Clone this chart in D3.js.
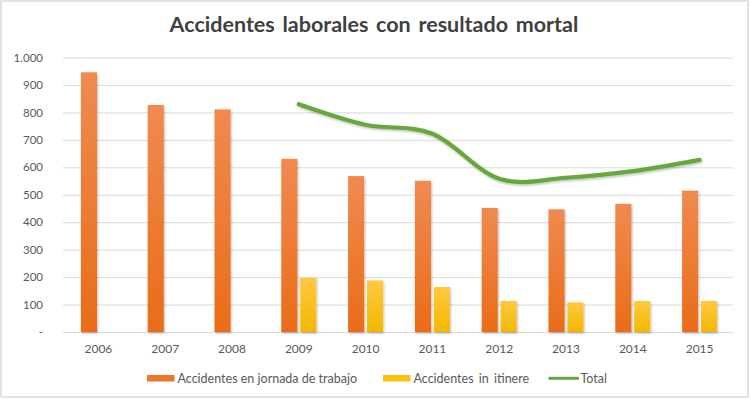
<!DOCTYPE html>
<html><head><meta charset="utf-8">
<script src="https://cdn.jsdelivr.net/npm/d3@7"></script>
<style>body{margin:0;background:#fff} svg{display:block}</style>
</head><body><svg id="c" width="750" height="400"></svg>
<script>
const title = "Accidentes laborales con resultado mortal";
const years = ["2006","2007","2008","2009","2010","2011","2012","2013","2014","2015"];
const jornada = [946, 827, 811, 631, 568, 551, 452, 447, 467, 515];
const itinere = [0, 0, 0, 197, 188, 164, 113, 108, 113, 113];
const total = [null, null, null, 830, 755, 722, 558, 562, 586, 627];
const yTicks = [0, 100, 200, 300, 400, 500, 600, 700, 800, 900, 1000];
const seriesNames = ["Accidentes en jornada de trabajo", "Accidentes in itinere", "Total"];

const svg = d3.select("#c");
const FONT = "Lato, 'Open Sans', sans-serif";

// border
svg.append("rect").attr("x",1).attr("y",1).attr("width",747).attr("height",396)
  .attr("fill","#fff").attr("stroke","#d9d9d9").attr("stroke-width",1.5);

const defs = svg.append("defs");
function grad(id, c1, c2){
  const g = defs.append("linearGradient").attr("id",id).attr("x1",0).attr("y1",0).attr("x2",0).attr("y2",1);
  g.append("stop").attr("offset","0%").attr("stop-color",c1);
  g.append("stop").attr("offset","100%").attr("stop-color",c2);
}
grad("gO","#F08A50","#EA6C18");
grad("gY","#FFC940","#F4B700");
const sh = defs.append("filter").attr("id","sh").attr("x","-20%").attr("y","-20%").attr("width","140%").attr("height","140%");
sh.append("feDropShadow").attr("dx",1).attr("dy",1.5).attr("stdDeviation",1.2).attr("flood-color","#000").attr("flood-opacity",0.25);

const x = d3.scaleBand().domain(years).range([65, 733]).padding(0);
const xs = d3.scaleBand().domain(["j","i"]).range([-17.5, 17.5]).paddingInner(0.15);
const y = d3.scaleLinear().domain([0, 1000]).range([332, 57.5]);
const cx = d => x(d) + x.bandwidth()/2;

// title
svg.append("text").attr("x",374).attr("y",32).attr("text-anchor","middle")
  .attr("font-family",FONT).attr("font-weight","bold").attr("font-size",21.5)
  .attr("word-spacing",2.5)
  .attr("fill","#404040").text(title);

// gridlines
const grid = svg.append("g").attr("transform","translate(63,0)")
  .call(d3.axisLeft(y).tickValues(yTicks).tickSize(-670).tickFormat(""));
grid.select(".domain").remove();
grid.selectAll("line").attr("stroke","#d9d9d9").attr("stroke-width",1);

// y labels
const ya = svg.append("g").attr("transform","translate(63,0)")
  .call(d3.axisLeft(y).tickValues(yTicks).tickSize(0).tickPadding(20)
    .tickFormat(d => d === 0 ? "-" : d3.format(",")(d).replace(",", ".")));
ya.select(".domain").remove();
ya.selectAll("text").attr("font-family",FONT).attr("font-size",11.5).attr("fill","#595959");

// x labels
const xa = svg.append("g").attr("transform","translate(0,332)")
  .call(d3.axisBottom(x).tickSize(0).tickPadding(12));
xa.select(".domain").remove();
xa.selectAll("text").attr("font-family",FONT).attr("font-size",12).attr("fill","#595959");

// bars
const bars = svg.append("g").attr("filter","url(#sh)");
bars.selectAll("rect.j").data(years).join("rect").attr("class","j")
  .attr("x", d => cx(d) + xs("j")).attr("width", xs.bandwidth())
  .attr("y", (d,i) => y(jornada[i])).attr("height", (d,i) => y(0) - y(jornada[i]))
  .attr("fill","url(#gO)");
bars.selectAll("rect.i").data(years).join("rect").attr("class","i")
  .attr("x", d => cx(d) + xs("i")).attr("width", xs.bandwidth())
  .attr("y", (d,i) => y(itinere[i])).attr("height", (d,i) => y(0) - y(itinere[i]))
  .attr("fill","url(#gY)");

// total line
const pts = years.map((d,i) => [cx(d), total[i]]).filter(p => p[1] != null);
svg.append("path").datum(pts)
  .attr("d", d3.line().x(p => p[0]).y(p => y(p[1])).curve(d3.curveCardinal.tension(0)))
  .attr("fill","none").attr("stroke","#66A83A").attr("stroke-width",4.2)
  .attr("stroke-linecap","round").attr("filter","url(#sh)");

// legend
const lg = svg.append("g").attr("font-family",FONT).attr("font-size",12.5).attr("fill","#595959");
lg.append("rect").attr("x",147).attr("y",375).attr("width",27.5).attr("height",6.5).attr("fill","#EE7728");
lg.append("text").attr("x",177.5).attr("y",382.5).text(seriesNames[0]);
lg.append("rect").attr("x",383).attr("y",375).attr("width",27.5).attr("height",6.5).attr("fill","#FDC010");
lg.append("text").attr("x",413.5).attr("y",382.5).attr("word-spacing",2).text(seriesNames[1]);
lg.append("line").attr("x1",548.5).attr("x2",579).attr("y1",378.3).attr("y2",378.3)
  .attr("stroke","#66A83A").attr("stroke-width",3);
lg.append("text").attr("x",580.5).attr("y",382.5).text(seriesNames[2]);
</script></body></html>
